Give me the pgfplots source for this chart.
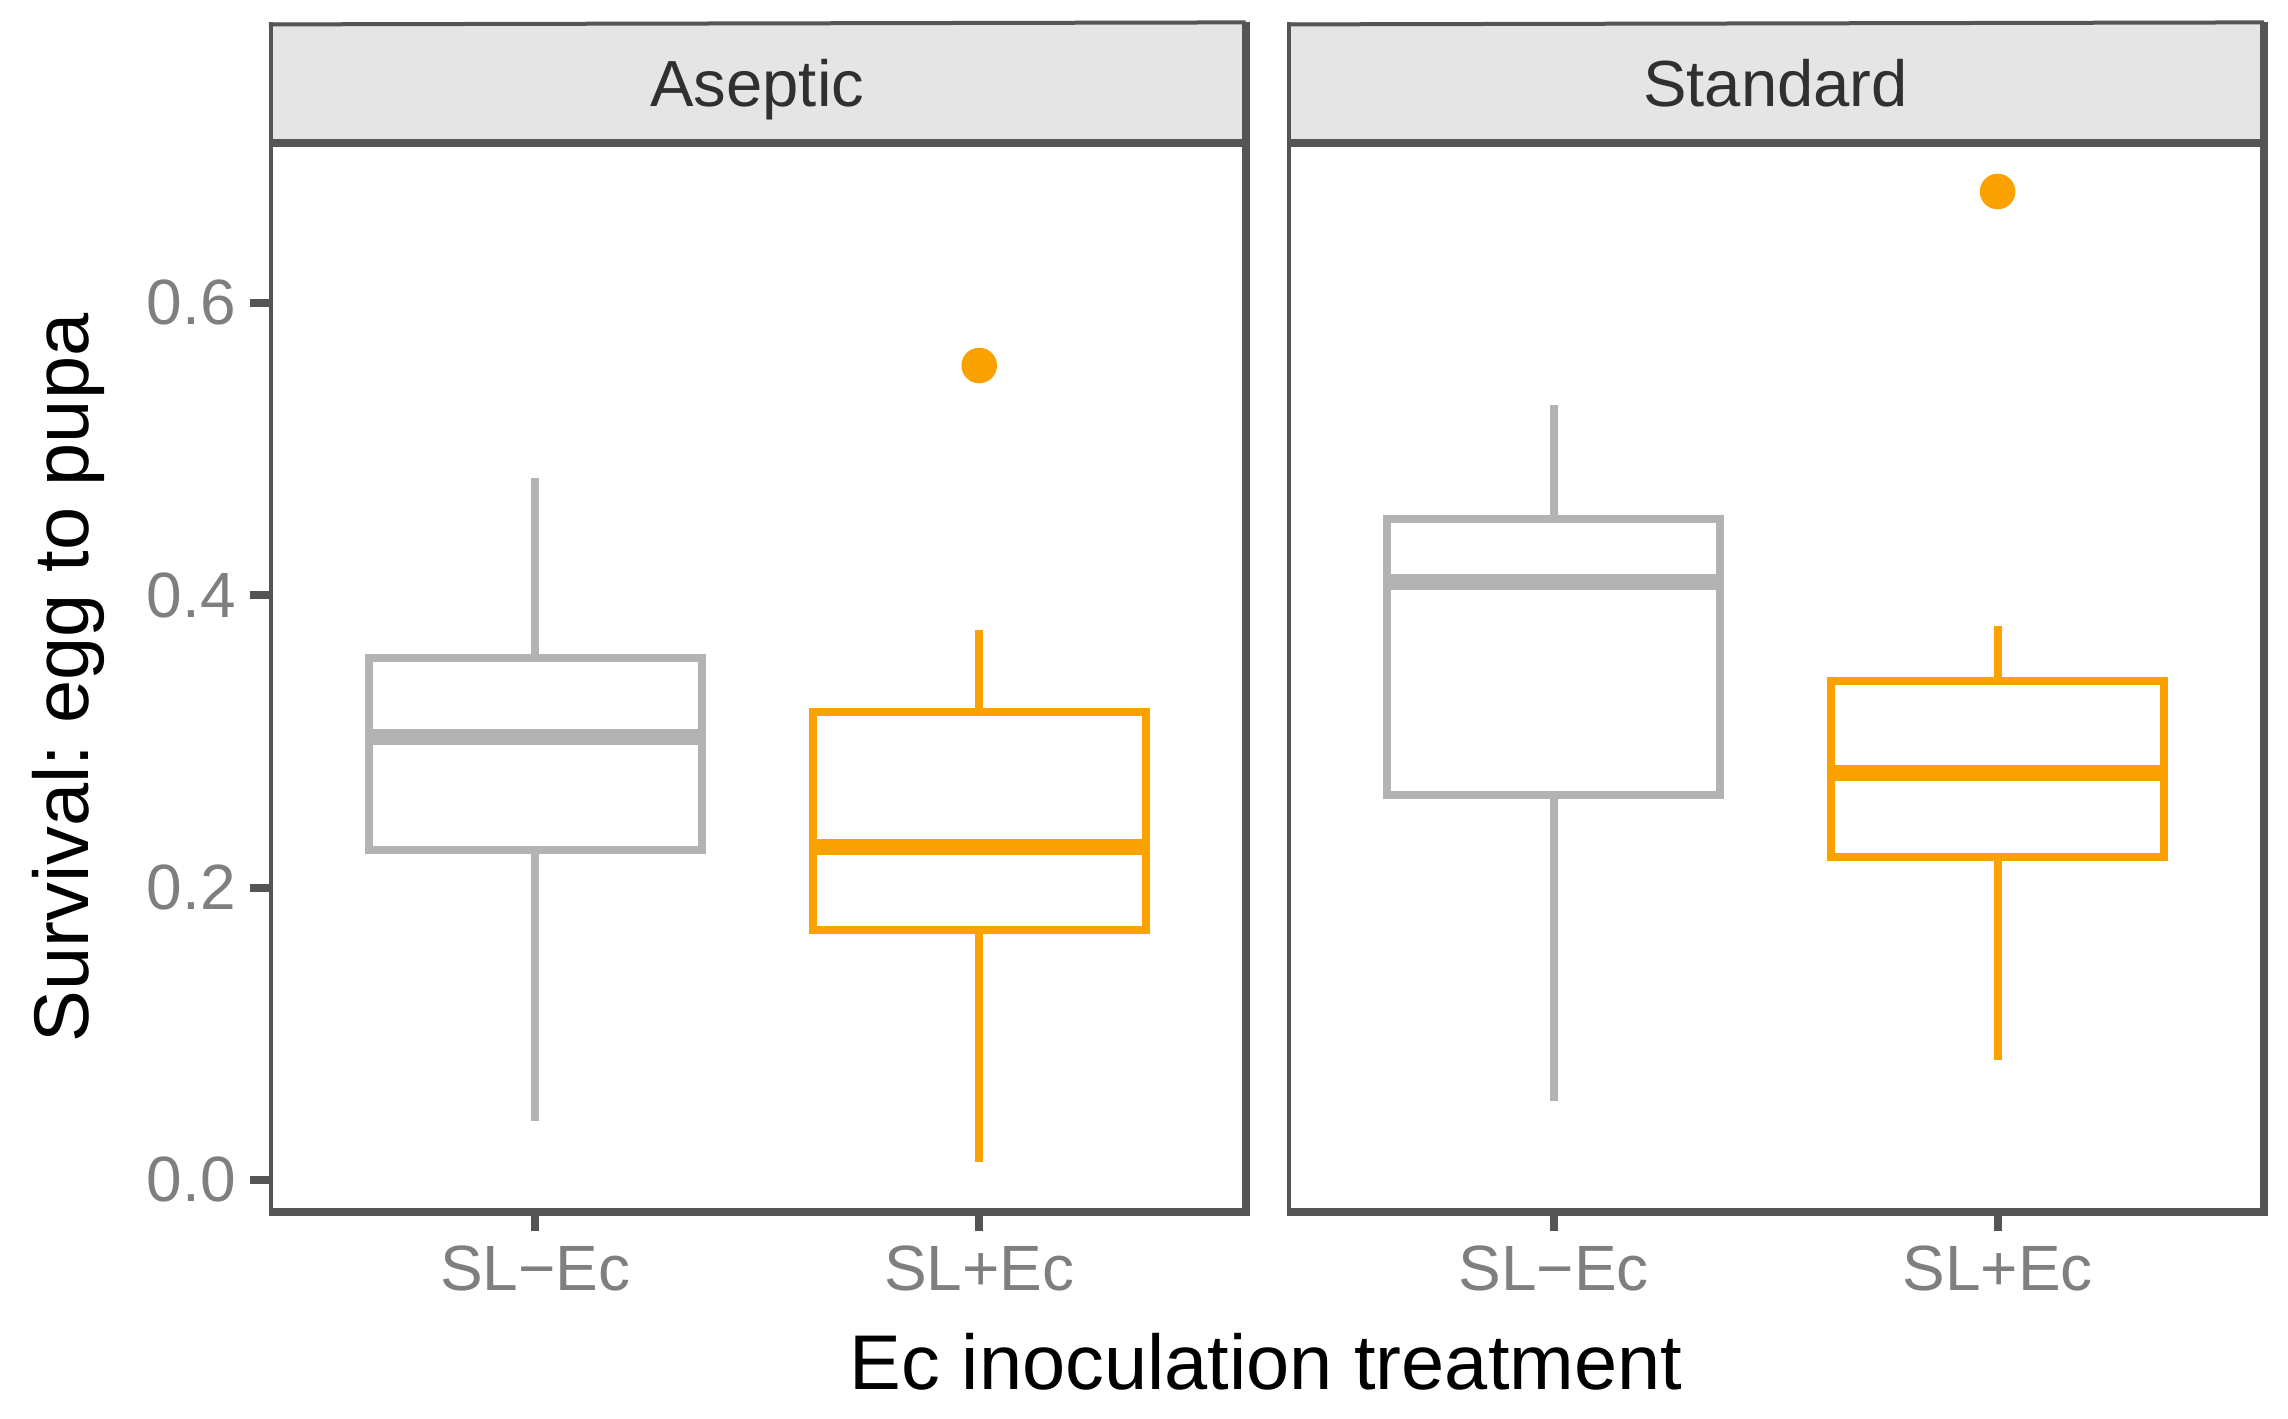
\documentclass[border=0pt]{standalone}
\usepackage{fontspec}
\setmainfont{Liberation Sans}
\usepackage{pgfplots}
\pgfplotsset{compat=1.18}
\usepgfplotslibrary{statistics}
\frenchspacing

\definecolor{frame}{HTML}{555555}
\definecolor{stripbg}{HTML}{E5E5E5}
\definecolor{striptxt}{HTML}{303030}
\definecolor{ticklab}{HTML}{7F7F7F}
\definecolor{boxgrey}{HTML}{B3B3B3}
\definecolor{boxorange}{RGB}{252,162,0}

\pgfplotsset{
  panel/.style={
    scale only axis,
    width=244.2pt, height=267.25pt,
    xmin=0.4, xmax=2.6,
    ymin=-0.0222, ymax=0.7089,
    clip=false,
    boxplot/draw direction=y,
    axis line style={draw=none},
    tick align=outside,
    major tick length=4.75pt,
    tick style={line width=2pt, color=frame},
    xtick={1,2},
    xticklabels={SL−Ec, SL+Ec},
    xtick pos=left, ytick pos=left,
    ticklabel style={font=\fontsize{16}{19}\selectfont, text=ticklab},
  },
  bx/.style={
    line width=2pt, line join=miter, solid, mark=none,
    boxplot/every median/.style={line width=4pt},
  },
}

% panel frame and facet strip
\newcommand{\panelframe}[1]{%
  \fill[stripbg] (rel axis cs:0,1) rectangle (rel axis cs:1,1.1132);
  \draw[frame, line width=2pt, line join=miter] (rel axis cs:0,0) -- (rel axis cs:1,0) -- (rel axis cs:1,1.1132);
  \draw[frame, line width=2pt] (rel axis cs:0,1) -- (rel axis cs:1,1);
  \draw[frame, line width=1pt] ([xshift=0.5pt]rel axis cs:0,0) -- ([xshift=0.5pt]rel axis cs:0,1.1132);
  \draw[frame, line width=1pt] ([yshift=-0.5pt]rel axis cs:0,1.1132) -- (rel axis cs:1,1.1132);
  \node[anchor=base, text=striptxt, font=\fontsize{16.3}{19}\selectfont] at (rel axis cs:0.5,1.0344) {#1};
}

\begin{document}
\begin{tikzpicture}
\path[use as bounding box] (0,0) rectangle (572pt,354.5pt);

\begin{axis}[panel, at={(67.2pt,51.4pt)}, anchor=south west,
  ytick={0,0.2,0.4,0.6}, yticklabels={0.0,0.2,0.4,0.6}]
  \addplot[bx, draw=boxgrey, boxplot prepared={draw position=1, box extend=0.75, whisker extend=0,
    lower whisker=0.040, lower quartile=0.226,
    median=0.303, upper quartile=0.357, upper whisker=0.480}] coordinates {};
  \addplot[bx, draw=boxorange, boxplot prepared={draw position=2, box extend=0.75, whisker extend=0,
    lower whisker=0.012, lower quartile=0.171,
    median=0.228, upper quartile=0.320, upper whisker=0.376}] coordinates {};
  \addplot[only marks, mark=*, mark size=4.25pt, color=boxorange] coordinates {(2,0.557)};
  \panelframe{Aseptic}
\end{axis}

\begin{axis}[panel, at={(321.8pt,51.4pt)}, anchor=south west, ytick=\empty]
  \addplot[bx, draw=boxgrey, boxplot prepared={draw position=1, box extend=0.75, whisker extend=0,
    lower whisker=0.054, lower quartile=0.263,
    median=0.409, upper quartile=0.452, upper whisker=0.530}] coordinates {};
  \addplot[bx, draw=boxorange, boxplot prepared={draw position=2, box extend=0.75, whisker extend=0,
    lower whisker=0.082, lower quartile=0.221,
    median=0.278, upper quartile=0.341, upper whisker=0.379}] coordinates {};
  \addplot[only marks, mark=*, mark size=4.25pt, color=boxorange] coordinates {(2,0.676)};
  \panelframe{Standard}
\end{axis}

\node[anchor=base, font=\fontsize{19.4}{23}\selectfont] at (316.5pt,7.25pt) {Ec inoculation treatment};
\node[anchor=base, rotate=90, font=\fontsize{19.4}{23}\selectfont] at (22.2pt,185pt) {Survival: egg to pupa};
\end{tikzpicture}
\end{document}
